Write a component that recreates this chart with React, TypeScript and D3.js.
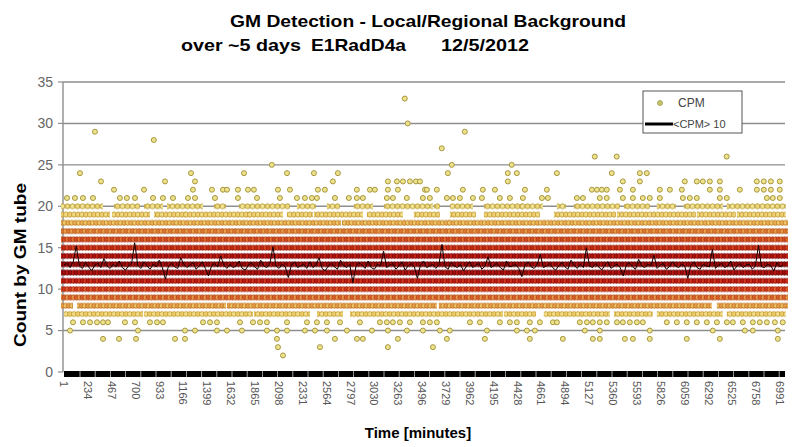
import React from "react";
import * as d3 from "d3";

// x categories: minutes 1..7040, tick labels every 233 minutes
const xTicks = [1, 234, 467, 700, 933, 1166, 1399, 1632, 1865, 2098, 2331, 2564, 2797, 3030, 3263, 3496, 3729, 3962, 4195, 4428, 4661, 4894, 5127, 5360, 5593, 5826, 6059, 6292, 6525, 6758, 6991];
const yTicks = [0, 5, 10, 15, 20, 25, 30, 35];
const nMinutes = 7040;

// dense bands of CPM readings: [fromMinute, toMinute] runs per count level
const runsFull = [[1, 7040]];
const runs7 = [[30, 743], [811, 1816], [1885, 2373], [2500, 2695], [2822, 4256], [4325, 4579], [4715, 5300], [5399, 5720], [5818, 6404], [6501, 7018]];
const runs8 = [[1, 60], [157, 1553], [1621, 3612], [3690, 6296], [6404, 7040]];
const runs18 = [[1, 2675], [2744, 3300], [3350, 3740], [3780, 7040]];
const runs19 = [[1, 421], [499, 811], [909, 1163], [1202, 1494], [1553, 1787], [1816, 2109], [2207, 2402], [2470, 2890], [2988, 3280], [3446, 3641], [3798, 3993], [4130, 4325], [4383, 4618], [4813, 5360], [5428, 5691], [5750, 6140], [6208, 6530], [6599, 7018]];
const runs20 = [[1, 352], [518, 713], [811, 938], [1036, 1328], [1494, 1553], [1738, 2178], [2304, 2431], [2597, 2665], [2860, 2988], [3153, 3573], [3641, 3641], [3798, 3964], [4130, 4452], [4481, 4647], [4842, 4871], [5008, 5399], [5496, 5691], [5818, 5945], [6081, 6404], [6501, 7018]];

// isolated CPM readings: minutes at which each count level occurs
const pts2 = [2139];
const pts3 = [2090, 2500, 3163, 3603];
const pts4 = [382, 538, 704, 1085, 1182, 2080, 2646, 2861, 2919, 3261, 3739, 4110, 4549, 4871, 5164, 5232, 5477, 5555, 5720, 6081, 6404, 6970];
const pts5 = [60, 723, 1182, 1280, 1494, 1592, 1738, 1982, 2080, 2178, 2353, 2451, 2568, 2763, 3007, 3163, 3349, 3505, 3671, 3768, 4130, 4422, 4520, 4598, 5086, 5232, 5720, 6335, 6648, 6726, 6970];
const pts6 = [89, 186, 255, 323, 382, 430, 596, 694, 840, 909, 967, 1358, 1426, 1494, 1719, 1846, 1914, 1982, 2178, 2373, 2470, 2568, 2695, 2890, 3085, 3153, 3212, 3280, 3378, 3505, 3573, 3641, 3964, 4061, 4256, 4354, 4422, 4549, 4647, 4774, 4813, 5037, 5106, 5164, 5232, 5300, 5399, 5457, 5525, 5594, 5652, 5886, 5984, 6081, 6179, 6277, 6375, 6472, 6531, 6628, 6726, 6794, 6863, 6941, 7018];
const pts21 = [30, 108, 186, 284, 547, 615, 694, 870, 967, 1065, 1211, 1280, 1475, 1699, 1885, 2109, 2275, 2353, 2421, 2470, 2646, 2782, 2860, 2919, 3153, 3212, 3348, 3505, 3573, 3739, 3798, 3866, 3993, 4081, 4256, 4354, 4481, 4667, 4725, 5008, 5067, 5232, 5300, 5457, 5555, 5652, 5720, 5818, 6043, 6111, 6179, 6404, 6472, 6863, 6921, 6989];
const pts22 = [489, 782, 1260, 1445, 1553, 1592, 1699, 1797, 1855, 2090, 2207, 2480, 2548, 2860, 2988, 3036, 3163, 3261, 3525, 3544, 3641, 3895, 4090, 4208, 4501, 4715, 5155, 5204, 5252, 5300, 5428, 5555, 5818, 5916, 6033, 6306, 6404, 6599, 6765, 6833, 6902, 6989];
const pts23 = [362, 987, 1280, 2626, 3163, 3251, 3310, 3378, 3437, 3476, 4334, 5457, 5623, 6062, 6179, 6238, 6306, 6404, 6765, 6833, 6902, 6989];
const pts24 = [157, 1241, 1758, 2178, 2441, 2675, 3749, 4334, 4422, 4813, 5349, 5623, 5691];
const pts25 = [2030, 3787, 4372];
const pts26 = [5183, 5397, 6471];
const pts27 = [3689];
const pts28 = [878];
const pts29 = [303, 3914];
const pts30 = [3357];
const pts33 = [3328];

// 10-point running mean <CPM>10, read every 30 minutes
const maStep = 30;
const maValues = [
  12.9, 13.1, 12.6, 13.3, 15.2, 12.8, 12.5, 13.2, 12.7, 12.2, 12.9, 13.1, 12.6, 13.7, 12.8, 12.5, 13.0, 12.7, 13.4, 12.6,
  12.3, 12.8, 13.1, 15.6, 12.9, 12.5, 13.3, 12.8, 12.4, 13.0, 12.7, 13.5, 12.6, 11.2, 12.8, 13.1, 12.7, 12.5, 13.8, 13.0,
  12.6, 12.9, 13.2, 12.4, 12.8, 13.3, 12.5, 11.6, 12.8, 13.1, 12.7, 14.0, 12.9, 12.5, 13.0, 12.6, 12.8, 13.4, 12.5, 12.3,
  12.9, 13.2, 12.7, 12.4, 13.5, 12.8, 12.6, 13.1, 15.1, 12.8, 12.5, 13.0, 12.7, 11.4, 12.9, 13.3, 12.6, 12.8, 13.0, 12.5,
  13.3, 12.6, 12.9, 13.8, 12.5, 12.2, 12.8, 13.1, 12.7, 12.4, 13.5, 12.8, 12.6, 13.0, 10.8, 12.7, 13.2, 12.9, 12.5, 13.4,
  12.6, 12.4, 13.0, 12.8, 14.6, 12.6, 12.9, 13.1, 12.4, 12.8, 13.3, 12.3, 12.8, 13.1, 12.7, 11.3, 12.9, 13.4, 12.6, 12.8,
  13.0, 12.5, 12.9, 15.4, 12.7, 12.4, 13.2, 12.8, 12.6, 13.0, 12.2, 12.8, 13.3, 12.6, 12.9, 13.1, 12.4, 12.8, 13.9, 12.6,
  12.9, 13.1, 12.6, 12.3, 13.4, 12.7, 12.8, 13.0, 12.5, 11.5, 12.9, 13.3, 12.7, 12.5, 13.0, 14.2, 12.6, 12.8, 13.1, 12.6,
  12.3, 12.8, 13.2, 12.7, 12.4, 13.5, 12.9, 12.5, 13.0, 12.6, 15.0, 12.8, 12.6, 13.1, 12.7, 12.3, 12.9, 13.3, 12.5, 12.8,
  13.0, 12.6, 11.6, 12.9, 13.2, 12.7, 12.4, 13.6, 12.8, 12.6, 13.0, 12.8, 14.1, 12.5, 12.9, 13.1, 12.4, 12.7, 13.3, 12.8,
  12.6, 13.0, 12.8, 11.3, 12.9, 13.3, 12.6, 12.4, 13.0, 12.8, 12.7, 14.8, 12.5, 12.9, 13.1, 12.6, 12.8, 13.4, 12.3, 12.8,
  13.1, 12.6, 12.9, 13.0, 12.4, 12.8, 15.3, 12.7, 12.6, 13.0, 12.8, 12.2, 13.2, 12.7, 12.9,
];

const bands = [
  { level: 7, runs: runs7 }, { level: 8, runs: runs8 }, { level: 9, runs: runsFull }, { level: 10, runs: runsFull },
  { level: 11, runs: runsFull }, { level: 12, runs: runsFull }, { level: 13, runs: runsFull }, { level: 14, runs: runsFull },
  { level: 15, runs: runsFull }, { level: 16, runs: runsFull }, { level: 17, runs: runsFull }, { level: 18, runs: runs18 },
  { level: 19, runs: runs19 }, { level: 20, runs: runs20 },
];
const sparse: [number, number[]][] = [
  [2, pts2], [3, pts3], [4, pts4], [5, pts5], [6, pts6], [21, pts21], [22, pts22], [23, pts23], [24, pts24],
  [25, pts25], [26, pts26], [27, pts27], [28, pts28], [29, pts29], [30, pts30], [33, pts33],
];

// overlap look of the markers for each band level
const bandStyle: Record<number, { fill: string; alt: string; stroke: string; step: number }> = {
  7: { fill: "#f3e08a", alt: "#eccf6a", stroke: "#c39a34", step: 4 },
  8: { fill: "#f0c468", alt: "#e8a048", stroke: "#bb7024", step: 3.2 },
  9: { fill: "#ec9a48", alt: "#e0602a", stroke: "#b04818", step: 3 },
  10: { fill: "#e4642e", alt: "#d8341c", stroke: "#a02410", step: 3 },
  11: { fill: "#d83a1e", alt: "#c41a12", stroke: "#8a0e06", step: 3 },
  12: { fill: "#c01c14", alt: "#a80c0c", stroke: "#640000", step: 3 },
  13: { fill: "#b81410", alt: "#a00808", stroke: "#5a0000", step: 3 },
  14: { fill: "#cc2818", alt: "#b41410", stroke: "#7a0404", step: 3 },
  15: { fill: "#dc4a22", alt: "#c82a16", stroke: "#941808", step: 3 },
  16: { fill: "#e6742e", alt: "#d84a20", stroke: "#a43010", step: 3 },
  17: { fill: "#eca24a", alt: "#e27a34", stroke: "#b2581c", step: 3.2 },
  18: { fill: "#f0c868", alt: "#ebb050", stroke: "#bc7e2a", step: 3.5 },
  19: { fill: "#f2dc80", alt: "#eed070", stroke: "#bf9630", step: 4 },
  20: { fill: "#f1e490", alt: "#ecd878", stroke: "#b69a3a", step: 5 },
};

const FONT = "'Liberation Sans', Arial, sans-serif";

export default function App() {
  const W = 798, H = 447;
  const x = d3.scaleLinear().domain([1, nMinutes]).range([64, 785]);
  const y = d3.scaleLinear().domain([0, 35]).range([372, 82]);
  const S = y(0) - y(1);
  const r = 2.5;

  const maLine = d3
    .line<number>()
    .x((_, i) => x(1 + i * maStep))
    .y((d) => y(d));

  return (
    <svg width={W} height={H} style={{ position: "absolute", left: 0, top: 0, background: "#fff" }} fontFamily={FONT}>
      <defs>
        {bands.map((b) => {
          const st = bandStyle[b.level];
          const w = st.step;
          return (
            <pattern key={b.level} id={`band${b.level}`} patternUnits="userSpaceOnUse" x={0} y={y(0) - S / 2} width={2 * w} height={S}>
              {[-1, 0, 1, 2].map((k) => (
                <circle key={k} cx={w / 2 + k * w} cy={S / 2} r={r} fill={Math.abs(k) % 2 ? st.alt : st.fill} stroke={st.stroke} strokeWidth={0.9} />
              ))}
            </pattern>
          );
        })}
      </defs>

      {/* titles */}
      <text x={428} y={27} textAnchor="middle" fontSize={17} fontWeight="bold" textLength={396} lengthAdjust="spacingAndGlyphs">
        GM Detection - Local/Regional Background
      </text>
      <text x={181} y={51} fontSize={17} fontWeight="bold" textLength={120} lengthAdjust="spacingAndGlyphs">over ~5 days</text>
      <text x={311} y={51} fontSize={17} fontWeight="bold" textLength={95} lengthAdjust="spacingAndGlyphs">E1RadD4a</text>
      <text x={441} y={51} fontSize={17} fontWeight="bold" textLength={88} lengthAdjust="spacingAndGlyphs">12/5/2012</text>

      {/* gridlines */}
      {yTicks.filter((t) => t > 0).map((t) => (
        <line key={t} x1={63} x2={785} y1={y(t)} y2={y(t)} stroke="#8e8e8e" strokeWidth={1.4} />
      ))}
      <line x1={63} x2={63} y1={y(35)} y2={y(0)} stroke="#8e8e8e" strokeWidth={1.4} />
      {yTicks.map((t) => (
        <g key={t}>
          <line x1={58} x2={63} y1={y(t)} y2={y(t)} stroke="#8e8e8e" strokeWidth={1.2} />
          <text x={53} y={y(t)} dy="0.35em" textAnchor="end" fontSize={14} fill="#666">{t}</text>
        </g>
      ))}

      {/* dense CPM bands */}
      {bands.map((b) =>
        b.runs.map(([a, e], i) => (
          <rect key={`${b.level}-${i}`} x={x(a) - r - 0.5} width={x(e) - x(a) + 2 * r + 1} y={y(b.level) - S / 2 + 0.3} height={S - 0.6} fill={`url(#band${b.level})`} />
        ))
      )}

      {/* isolated CPM points */}
      {sparse.map(([lv, ms]) =>
        ms.map((m, i) => (
          <circle key={`${lv}-${i}`} cx={x(m)} cy={y(lv)} r={r} fill="#ede38c" stroke="#a8953e" strokeWidth={1} />
        ))
      )}

      {/* running mean */}
      <path d={maLine(maValues) || ""} fill="none" stroke="#1a0000" strokeWidth={1} />

      {/* category tick bar */}
      <rect x={x(1)} y={371} width={x(nMinutes) - x(1)} height={6} fill="#000" />
      {d3.range(80, 785, 15.2).map((px) => (
        <line key={px} x1={px} x2={px} y1={371} y2={377} stroke="#fff" strokeWidth={0.8} opacity={0.8} />
      ))}
      {xTicks.map((t) => (
        <text key={t} transform={`translate(${x(t)},381) rotate(90)`} dy="0.35em" fontSize={11} fill="#555">{t}</text>
      ))}

      {/* axis titles */}
      <text x={418} y={438} textAnchor="middle" fontSize={15} fontWeight="bold">Time [minutes]</text>
      <text transform="translate(26,265) rotate(-90)" textAnchor="middle" fontSize={16} fontWeight="bold" textLength={164} lengthAdjust="spacingAndGlyphs">
        Count by GM tube
      </text>

      {/* legend */}
      <rect x={643} y={91} width={99} height={42} fill="#fff" stroke="#555" strokeWidth={1} />
      <circle cx={660} cy={103} r={2.5} fill="#c8c46a" stroke="#9c9a50" strokeWidth={0.8} />
      <text x={678} y={103} dy="0.35em" fontSize={12} fill="#444">CPM</text>
      <line x1={645} x2={673} y1={124} y2={124} stroke="#000" strokeWidth={3} />
      <text x={673} y={124} dy="0.35em" fontSize={11} fill="#444">&lt;CPM&gt; 10</text>
    </svg>
  );
}
